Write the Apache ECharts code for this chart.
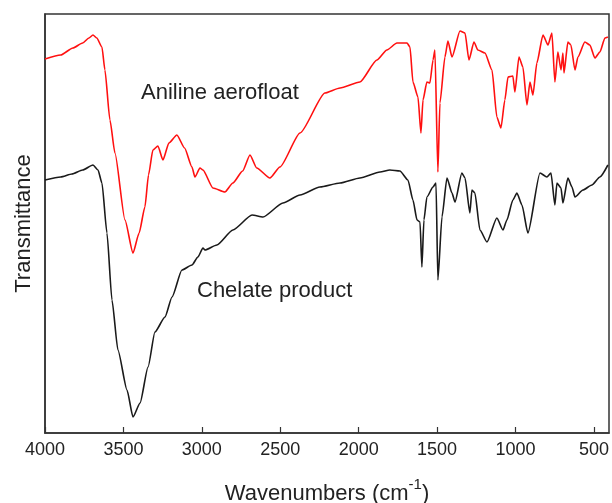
<!DOCTYPE html>
<html>
<head>
<meta charset="utf-8">
<script src="https://cdn.jsdelivr.net/npm/echarts@6/dist/echarts.min.js"></script>
<style>html,body{margin:0;padding:0;background:#fff}#c{width:612px;height:503px}</style>
</head>
<body>
<div id="c"></div>
<script>
const xTickLabels = [4000, 3500, 3000, 2500, 2000, 1500, 1000, 500];

const anilineWavenumbers = [4000,3900,3822,3760,3720,3694,3670,3637,3618,3586,3554,3490,3439,3400,3363,3340,3312,3280,3248,3210,3159,3110,3063,3044,3012,2993,2929,2853,2802,2740,2693,2650,2566,2502,2374,2215,2119,1992,1884,1820,1756,1692,1673,1654,1622,1603,1590,1565,1546,1526,1514,1495,1482,1450,1431,1405,1354,1322,1297,1265,1240,1195,1150,1119,1093,1068,1048,1017,1004,978,953,927,908,889,864,825,793,768,749,730,710,698,691,666,647,621,602,558,526,494,462,430,411];
const anilineValues = [374,378,385,390,395,398,395,386,363,313,280,213,180,200,226,258,283,287,273,290,298,285,266,256,265,263,245,241,250,262,278,265,255,266,300,340,345,351,373,383,390,390,386,351,336,300,333,351,350,373,383,261,330,376,392,376,402,400,373,391,383,380,363,316,305,333,356,357,341,376,366,328,351,338,370,398,388,400,351,381,363,380,360,391,388,363,376,391,388,375,381,395,396];

const chelateWavenumbers = [4000,3900,3828,3760,3694,3662,3637,3605,3573,3535,3477,3439,3394,3343,3299,3235,3190,3127,3063,3025,2993,2980,2904,2802,2680,2610,2483,2374,2247,2119,1992,1864,1801,1737,1686,1654,1628,1609,1597,1584,1565,1526,1507,1495,1469,1437,1405,1386,1342,1322,1291,1278,1259,1227,1182,1119,1080,1055,1017,991,959,921,844,800,774,749,736,710,698,666,640,621,570,513,462,411];
const chelateValues = [253,256,259,263,268,263,250,200,133,83,43,16,30,66,101,116,136,163,168,176,185,183,188,203,218,216,230,238,246,250,255,261,263,262,253,233,213,211,166,213,236,246,250,153,216,255,240,231,260,255,220,243,240,203,191,215,203,213,233,240,228,200,260,256,260,228,250,245,230,255,246,236,243,248,256,268];

function pairs(xs, ys) { return xs.map((x, i) => [x, ys[i]]); }

const chart = echarts.init(document.getElementById('c'), null, {renderer: 'canvas'});
const font = 'Liberation Sans, Arial, sans-serif';
chart.setOption({
  animation: false,
  backgroundColor: '#fff',
  grid: {left: 45, right: 3, top: 14, bottom: 70, outerBoundsMode: 'none', containLabel: false,
         show: true, borderColor: '#333', borderWidth: 1.5, backgroundColor: 'transparent'},
  xAxis: {
    type: 'value', inverse: true, min: 404, max: 4000,
    axisLine: {show: true, lineStyle: {color: '#333', width: 1.5}},
    axisTick: {show: true, inside: true, length: 6, customValues: xTickLabels, lineStyle: {color: '#333', width: 1.2}},
    axisLabel: {customValues: xTickLabels, formatter: v => String(v), color: '#222', fontSize: 18, fontFamily: font, margin: 8},
    splitLine: {show: false},
    name: '{a|Wavenumbers (cm}{s|-1}{a|)}',
    nameLocation: 'middle', nameGap: 44,
    nameTextStyle: {
      rich: {
        a: {fontSize: 22, fontFamily: font, color: '#222', verticalAlign: 'bottom', lineHeight: 28},
        s: {fontSize: 15, fontFamily: font, color: '#222', verticalAlign: 'top', lineHeight: 15}
      }
    }
  },
  yAxis: {
    type: 'value', min: 0, max: 419,
    axisLine: {show: true, lineStyle: {color: '#333', width: 1.5}},
    axisTick: {show: false}, axisLabel: {show: false}, splitLine: {show: false},
    name: 'Transmittance', nameLocation: 'middle', nameGap: 10,
    nameTextStyle: {fontSize: 22, fontFamily: font, color: '#222'}
  },
  series: [
    {name: 'Aniline aerofloat', type: 'line', data: pairs(anilineWavenumbers, anilineValues), showSymbol: false,
     smooth: 0.2, smoothMonotone: 'x',
     lineStyle: {color: '#ff1010', width: 1.6}, itemStyle: {color: '#ff1010'}},
    {name: 'Chelate product', type: 'line', data: pairs(chelateWavenumbers, chelateValues), showSymbol: false,
     smooth: 0.2, smoothMonotone: 'x',
     lineStyle: {color: '#1a1a1a', width: 1.6}, itemStyle: {color: '#1a1a1a'}}
  ],
  graphic: [
    {type: 'text', left: 141, top: 82, style: {text: 'Aniline aerofloat', font: '22px ' + font, fill: '#222'}},
    {type: 'text', left: 197, top: 280, style: {text: 'Chelate product', font: '22px ' + font, fill: '#222'}}
  ]
});
</script>
</body>
</html>
